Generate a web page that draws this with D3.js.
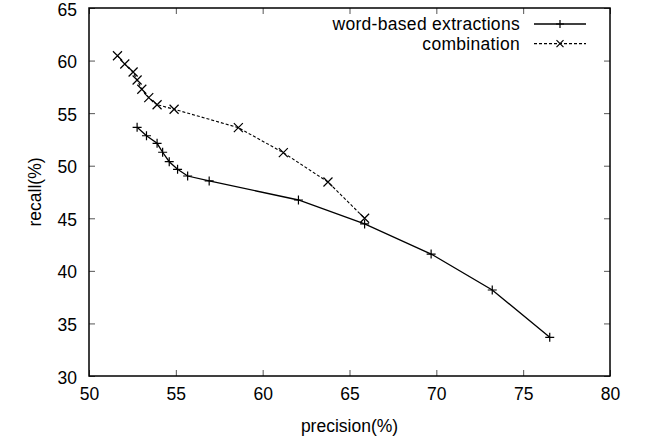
<!DOCTYPE html>
<html>
<head>
<meta charset="utf-8">
<script src="https://cdn.jsdelivr.net/npm/d3@7"></script>
<style>
  body { margin: 0; background: #fff; }
  svg { display: block; font-family: "Liberation Sans", Arial, sans-serif; }
</style>
</head>
<body>
<div class="grafico"></div>
<script>
// series
const wordPrecision = [52.77, 53.31, 53.92, 54.24, 54.62, 55.10, 55.68, 56.92, 62.06, 65.87, 69.70, 73.22, 76.53];
const wordRecall    = [53.65, 52.85, 52.13, 51.28, 50.38, 49.66, 49.02, 48.55, 46.74, 44.46, 41.60, 38.18, 33.68];
const combPrecision = [51.64, 52.06, 52.54, 52.77, 53.04, 53.44, 53.92, 54.90, 58.60, 61.19, 63.76, 65.87];
const combRecall    = [60.46, 59.67, 58.91, 58.15, 57.27, 56.47, 55.80, 55.37, 53.62, 51.24, 48.45, 45.00];
const xTicks = [50, 55, 60, 65, 70, 75, 80];
const yTicks = [30, 35, 40, 45, 50, 55, 60, 65];
const seriesNames = ["word-based extractions", "combination"];

var width = 647, height = 441;
var margin = { top: 8, right: 37, bottom: 65, left: 89 };
var w = width - margin.left - margin.right;
var h = height - margin.top - margin.bottom;
var fontSize = "17.5px";

var xScale = d3.scaleLinear().domain([50, 80]).range([0, w]);
var yScale = d3.scaleLinear().domain([30, 65]).range([h, 0]);

var svg = d3.select(".grafico").append("svg")
  .attr("width", width).attr("height", height);

var g = svg.append("g")
  .attr("transform", "translate(" + margin.left + "," + margin.top + ")");

// ticks, inward and mirrored like gnuplot
function styleAxis(sel) {
  sel.select(".domain").remove();
  sel.selectAll(".tick line").attr("stroke", "#555").attr("stroke-width", 1);
  sel.selectAll(".tick text").attr("fill", "#000").style("font-size", fontSize);
}

g.append("g").attr("transform", "translate(0," + h + ")")
  .call(d3.axisBottom(xScale).tickValues(xTicks).tickSize(-6).tickPadding(12))
  .call(styleAxis);
g.append("g")
  .call(d3.axisTop(xScale).tickValues(xTicks).tickSize(-6).tickFormat(""))
  .call(styleAxis);
g.append("g")
  .call(d3.axisLeft(yScale).tickValues(yTicks).tickSize(-6).tickPadding(12))
  .call(styleAxis)
  .selectAll(".tick text").attr("dy", "0.4em");
g.append("g").attr("transform", "translate(" + w + ",0)")
  .call(d3.axisRight(yScale).tickValues(yTicks).tickSize(-6).tickFormat(""))
  .call(styleAxis);

g.append("rect")
  .attr("width", w).attr("height", h)
  .attr("fill", "none").attr("stroke", "#000").attr("stroke-width", 1.5);

var line = d3.line()
  .x(function(d) { return xScale(d.x); })
  .y(function(d) { return yScale(d.y); });

var data1 = wordPrecision.map(function(x, i) { return { x: x, y: wordRecall[i] }; });
var data2 = combPrecision.map(function(x, i) { return { x: x, y: combRecall[i] }; });

function plus(sel, cx, cy, s) {
  sel.append("path")
    .attr("d", "M" + (cx - s) + "," + cy + "H" + (cx + s) + "M" + cx + "," + (cy - s) + "V" + (cy + s))
    .attr("stroke", "#000").attr("stroke-width", 1.2);
}
function cross(sel, cx, cy, s) {
  sel.append("path")
    .attr("d", "M" + (cx - s) + "," + (cy - s) + "L" + (cx + s) + "," + (cy + s) +
               "M" + (cx - s) + "," + (cy + s) + "L" + (cx + s) + "," + (cy - s))
    .attr("stroke", "#000").attr("stroke-width", 1.2);
}

g.append("path").datum(data1)
  .attr("fill", "none").attr("stroke", "#000").attr("stroke-width", 1.3)
  .attr("d", line);
g.append("path").datum(data2)
  .attr("fill", "none").attr("stroke", "#000").attr("stroke-width", 1.1)
  .attr("stroke-dasharray", "3,2")
  .attr("d", line);

data1.forEach(function(d) { plus(g, xScale(d.x), yScale(d.y), 4.5); });
data2.forEach(function(d) { cross(g, xScale(d.x), yScale(d.y), 4.5); });

// legend
var legend = svg.append("g");
[0, 1].forEach(function(i) {
  var yy = 24 + i * 19.6;
  legend.append("text")
    .attr("x", 520).attr("y", yy + 6)
    .attr("text-anchor", "end").style("font-size", fontSize)
    .style("letter-spacing", "0.3px")
    .text(seriesNames[i]);
  var ln = legend.append("line")
    .attr("x1", 534).attr("x2", 586).attr("y1", yy).attr("y2", yy)
    .attr("stroke", "#000").attr("stroke-width", i ? 1.1 : 1.3);
  if (i) { ln.attr("stroke-dasharray", "3,2"); cross(legend, 560, yy, 3.5); }
  else plus(legend, 560, yy, 4);
});

// axis titles
svg.append("text")
  .attr("x", margin.left + w / 2).attr("y", 432)
  .attr("text-anchor", "middle").style("font-size", fontSize)
  .text("precision(%)");
svg.append("text")
  .attr("transform", "translate(41," + (margin.top + h / 2) + ") rotate(-90)")
  .attr("text-anchor", "middle").style("font-size", fontSize)
  .text("recall(%)");
</script>
</body>
</html>
